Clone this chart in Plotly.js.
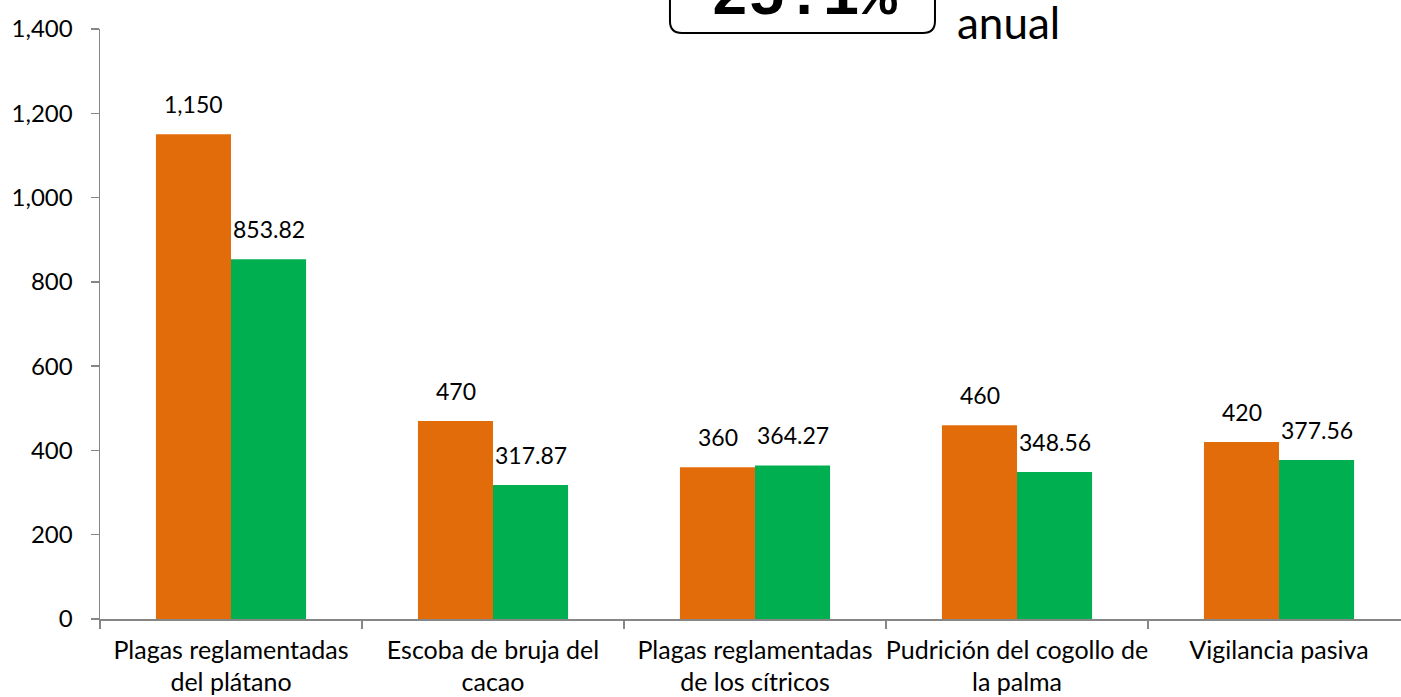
<!DOCTYPE html>
<html>
<head>
<meta charset="utf-8">
<script src="https://cdn.plot.ly/plotly-3.0.1.min.js"></script>
<style>html,body{margin:0;padding:0;background:#fff;}#chart{width:1401px;height:697px;}</style>
</head>
<body>
<div id="chart"></div>
<script>
const categories = [
  "Plagas reglamentadas<br>del plátano",
  "Escoba de bruja del<br>cacao",
  "Plagas reglamentadas<br>de los cítricos",
  "Pudrición del cogollo de<br>la palma",
  "Vigilancia pasiva"
];
const seriesOrange = [1150, 470, 360, 460, 420];
const seriesGreen = [853.82, 317.87, 364.27, 348.56, 377.56];
const yTicks = [0, 200, 400, 600, 800, 1000, 1200, 1400];
const highlightText = "25.1%";
const sideText = "anual";

const FONT = "Lato, 'Open Sans', sans-serif";
const ORANGE = "#E36C0A";
const GREEN = "#00B050";
const AXIS = "#868686";

const traces = [
  {type: "bar", x: categories, y: seriesOrange, marker: {color: ORANGE}, hoverinfo: "none", name: "A"},
  {type: "bar", x: categories, y: seriesGreen, marker: {color: GREEN}, hoverinfo: "none", name: "B"}
];

const fmt = v => v.toLocaleString("en-US", {maximumFractionDigits: 2});
const annotations = [];
categories.forEach((c, i) => {
  annotations.push({x: c, y: seriesOrange[i], xref: "x", yref: "y", text: fmt(seriesOrange[i]),
    showarrow: false, yanchor: "bottom", xanchor: "center", xshift: -37.5, yshift: 14,
    font: {family: FONT, size: 23, color: "#000"}});
  annotations.push({x: c, y: seriesGreen[i], xref: "x", yref: "y", text: fmt(seriesGreen[i]),
    showarrow: false, yanchor: "bottom", xanchor: "center", xshift: 37.5, yshift: 14,
    font: {family: FONT, size: 23, color: "#000"}});
});
annotations.push({xref: "paper", yref: "paper", x: 0.5415, y: 1.0537, xanchor: "center", yanchor: "middle",
  text: "<b>" + highlightText + "</b>", showarrow: false,
  font: {family: "'Liberation Mono', 'DejaVu Sans Mono', monospace", size: 62, color: "#000"}});
annotations.push({xref: "paper", yref: "paper", x: 0.6572, y: 1.0125, xanchor: "left", yanchor: "middle",
  text: sideText, showarrow: false, font: {family: FONT, size: 44, color: "#000"}});

// rounded box (paper coords)
const x0 = 0.4381, x1 = 0.6418, yb = 0.9932, yt = 1.2, rx = 0.0092, ry = 0.0203;
const boxPath = `M ${x0},${yt} L ${x0},${yb + ry} Q ${x0},${yb} ${x0 + rx},${yb} L ${x1 - rx},${yb} Q ${x1},${yb} ${x1},${yb + ry} L ${x1},${yt}`;

const layout = {
  width: 1401, height: 697,
  margin: {l: 100, r: 0, t: 29, b: 78, pad: 0},
  paper_bgcolor: "#fff", plot_bgcolor: "#fff",
  showlegend: false,
  barmode: "group", bargap: 0.427, bargroupgap: 0,
  font: {family: FONT, size: 23, color: "#000"},
  xaxis: {
    type: "category", range: [-0.5, 4.4656], showgrid: false, zeroline: false,
    showline: true, linecolor: AXIS, linewidth: 1.5,
    ticks: "outside", tickson: "boundaries", ticklen: 8, tickcolor: AXIS, tickwidth: 1.5,
    ticklabelstandoff: 8, tickangle: 0,
    tickfont: {family: FONT, size: 25, color: "#000"}, fixedrange: true
  },
  yaxis: {
    range: [0, 1400], tickvals: yTicks, tickformat: ",", showgrid: false, zeroline: false,
    showline: true, linecolor: AXIS, linewidth: 1.5,
    ticks: "outside", ticklen: 8, tickcolor: AXIS, tickwidth: 1.5,
    ticklabelstandoff: 13,
    tickfont: {family: FONT, size: 24, color: "#000"}, fixedrange: true
  },
  shapes: [{type: "path", xref: "paper", yref: "paper", path: boxPath, line: {color: "#000", width: 2}, layer: "above"}],
  annotations: annotations
};

Plotly.newPlot("chart", traces, layout, {displayModeBar: false, staticPlot: true});
</script>
</body>
</html>
